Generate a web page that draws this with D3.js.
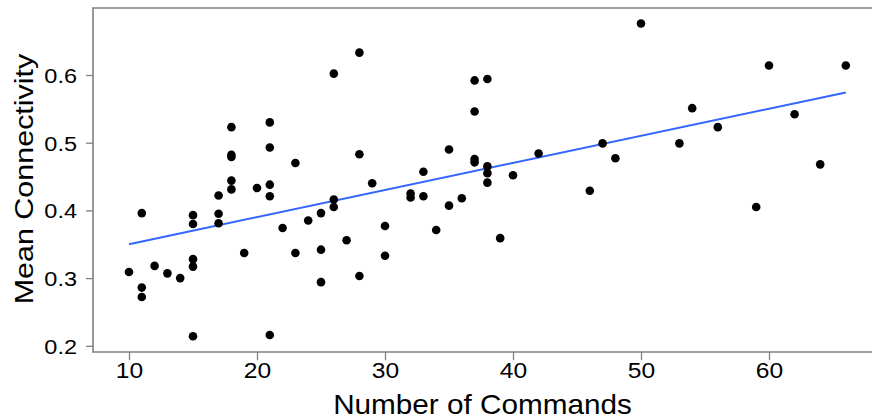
<!DOCTYPE html>
<html>
<head>
<meta charset="utf-8">
<script src="https://cdn.jsdelivr.net/npm/d3@7"></script>
<style>
  body { margin: 0; background: #fff; }
  text { font-family: "Liberation Sans", Arial, sans-serif; }
</style>
</head>
<body>
<script>
// number of commands per script
const commands = [
  10, 11, 11, 11, 12, 13, 14, 15, 15, 15, 15, 15,
  17, 17, 17, 18, 18, 18, 18, 18, 19, 20,
  21, 21, 21, 21, 21, 22, 23, 23, 24, 25, 25, 25,
  26, 26, 26, 27, 28, 28, 28, 29, 30, 30,
  32, 32, 33, 33, 34, 35, 35, 36,
  37, 37, 37, 37, 38, 38, 38, 38, 39, 40, 42,
  46, 47, 48, 50, 53, 54, 56, 59, 60, 62, 64, 66
];
// mean connectivity for each
const connectivity = [
  0.309, 0.396, 0.286, 0.272, 0.318, 0.307, 0.300, 0.393, 0.380, 0.328, 0.317, 0.214,
  0.422, 0.395, 0.381, 0.523, 0.482, 0.479, 0.444, 0.431, 0.337, 0.433,
  0.530, 0.493, 0.438, 0.421, 0.216, 0.374, 0.470, 0.337, 0.385, 0.396, 0.342, 0.294,
  0.602, 0.416, 0.405, 0.356, 0.633, 0.483, 0.303, 0.440, 0.377, 0.333,
  0.425, 0.419, 0.457, 0.421, 0.371, 0.490, 0.407, 0.418,
  0.592, 0.546, 0.476, 0.471, 0.594, 0.465, 0.455, 0.441, 0.359, 0.452, 0.484,
  0.429, 0.499, 0.477, 0.676, 0.499, 0.551, 0.523, 0.405, 0.614, 0.542, 0.468, 0.614
];
const xTicks = [10, 20, 30, 40, 50, 60];
const yTicks = [0.2, 0.3, 0.4, 0.5, 0.6];

const width = 872, height = 420;
const padLeft = 93, padTop = 8, padBottom = 352;

const svg = d3.select("body")
    .append("svg")
    .attr("width", width)
    .attr("height", height);

const x = d3.scaleLinear().domain([10, 60]).range([129, 769]);
const y = d3.scaleLinear().domain([0.2, 0.6]).range([345.8, 75]);

// panel frame: top and left/bottom lines (right side runs off the page)
svg.append("path")
    .attr("d", `M${width},${padTop}H${padLeft}V${padBottom}H${width}`)
    .attr("fill", "none")
    .attr("stroke", "#808080")
    .attr("stroke-width", 1.6);

// x axis
const gx = svg.append("g")
    .attr("transform", `translate(0,${padBottom})`)
    .call(d3.axisBottom(x).tickValues(xTicks).tickSize(8).tickPadding(2).tickFormat(d3.format("d")));
gx.select(".domain").remove();
gx.selectAll("line").attr("stroke", "#808080").attr("stroke-width", 1.3);
gx.selectAll("text")
    .attr("fill", "#000")
    .style("font-size", "22px")
    .attr("transform", "scale(1.12,1)");

// y axis
const gy = svg.append("g")
    .attr("transform", `translate(${padLeft},0)`)
    .call(d3.axisLeft(y).tickValues(yTicks).tickSize(7).tickFormat(d3.format(".1f")));
gy.select(".domain").remove();
gy.selectAll("line").attr("stroke", "#808080").attr("stroke-width", 1.3);
gy.selectAll("text")
    .attr("fill", "#000")
    .attr("x", -16 / 1.12)
    .attr("dy", "0.36em")
    .style("font-size", "21px")
    .attr("transform", "scale(1.12,1)");

// axis titles
svg.append("text")
    .attr("transform", `translate(${(padLeft + width) / 2},414) scale(1.1,1)`)
    .attr("text-anchor", "middle")
    .style("font-size", "27px")
    .text("Number of Commands");

svg.append("text")
    .attr("transform", `translate(33,${(padTop + padBottom) / 2 - 1}) rotate(-90) scale(1.15,1)`)
    .attr("text-anchor", "middle")
    .style("font-size", "26.5px")
    .text("Mean Connectivity");

// least squares fit
const pts = commands.map((c, i) => [c, connectivity[i]]);
const mx = d3.mean(commands), my = d3.mean(connectivity);
const slope = d3.sum(pts, p => (p[0] - mx) * (p[1] - my)) / d3.sum(pts, p => (p[0] - mx) ** 2);
const icept = my - slope * mx;
const xr = d3.extent(commands);

svg.append("line")
    .attr("x1", x(xr[0])).attr("y1", y(icept + slope * xr[0]))
    .attr("x2", x(xr[1])).attr("y2", y(icept + slope * xr[1]))
    .attr("stroke", "#3366FF")
    .attr("stroke-width", 2);

svg.selectAll("circle")
    .data(pts)
    .enter()
    .append("circle")
    .attr("cx", d => x(d[0]))
    .attr("cy", d => y(d[1]))
    .attr("r", 4.3)
    .attr("fill", "#000");
</script>
</body>
</html>
